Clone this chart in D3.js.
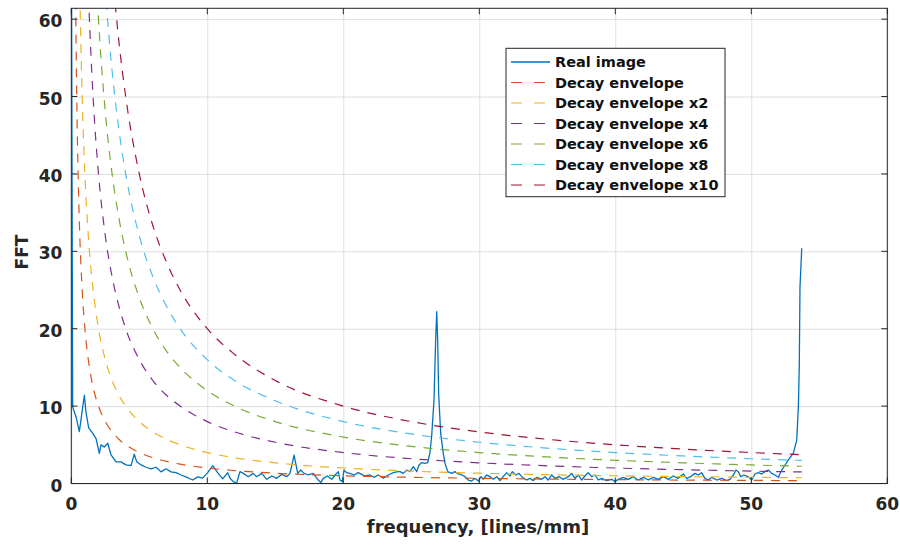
<!DOCTYPE html>
<html>
<head>
<meta charset="utf-8">
<script src="https://cdn.jsdelivr.net/npm/d3@7"></script>
<style>
    body { margin: 0; background: #fff; }
    svg { display: block; font-family: "DejaVu Sans", sans-serif; font-weight: bold; }
</style>
</head>
<body>
<div id="chart"></div>
<script>
// Real image spectrum
const realFreq = [
    0, 0.10, 0.35, 0.59, 0.96, 1.08, 1.28, 1.57, 1.82, 2.06, 2.18, 2.43, 2.68, 2.92, 3.29, 3.65, 4.02, 4.39, 4.63, 4.81,
    5.13, 5.49, 5.86, 6.23, 6.60, 6.96, 7.33, 7.70, 8.07, 8.43, 8.93, 9.29, 9.66, 10.03, 10.40, 10.76, 11.13, 11.50,
    11.67, 11.91, 12.16, 12.40, 12.65, 13.01, 13.38, 13.63, 14.00, 14.37, 14.74, 15.10, 15.47, 15.84, 16.08, 16.25,
    16.38, 16.50, 16.65, 16.87, 17.11, 17.43, 17.79, 18.16, 18.34, 18.53, 18.82, 19.15, 19.39, 19.63, 19.76, 19.93,
    20.05, 20.25, 20.49, 20.79, 21.10, 21.35, 21.60, 21.96, 22.26, 22.57, 22.94, 23.31, 23.68, 24.04,
    24.17, 24.41, 24.66, 24.90, 25.15, 25.40, 25.57, 25.76, 26.01, 26.21, 26.38, 26.50, 26.67, 26.79, 26.87, 26.94,
    27.01, 27.16, 27.35, 27.48, 27.68, 27.97, 28.21, 28.46, 28.71, 28.95, 29.19, 29.44, 29.68, 29.93, 30.13, 30.29,
    30.54, 30.79, 31.03, 31.28, 31.52, 31.76, 32.01, 32.26, 32.43, 32.68, 32.92, 33.16, 33.49, 33.73, 33.97, 34.22,
    34.59, 34.83, 35.07, 35.32, 35.57, 35.86, 36.18, 36.30, 36.54, 36.79, 37.04, 37.28, 37.53, 37.77, 38.01, 38.26,
    38.51, 38.75, 39.00, 39.37, 39.74, 39.98, 40.22, 40.59, 40.96, 41.32, 41.69, 42.06, 42.43, 42.79, 43.16, 43.53,
    43.90, 44.26, 44.63, 45.00, 45.25, 45.54, 45.86, 46.10, 46.35, 46.59, 46.84, 47.09, 47.46, 47.82, 48.19,
    48.43, 48.68, 48.87, 49.04, 49.22, 49.46, 49.78, 50.03, 50.27, 50.51, 50.76, 51.00, 51.25, 51.50, 51.74, 51.99,
    52.24, 52.48, 52.72, 53.09, 53.34, 53.46, 53.53, 53.58, 53.71
];
const realFFT = [
    75, 9.9, 8.6, 6.7, 11.4, 9.2, 7.2, 6.5, 5.8, 3.9, 5.0, 4.7, 5.2, 3.7, 2.8, 2.8, 2.4, 2.3, 3.8, 2.8,
    2.4, 2.1, 1.9, 2.1, 1.5, 1.9, 1.5, 1.4, 1.1, 0.85, 0.45, 0.85, 0.7, 1.4, 2.3, 1.4, 0.6, 1.4,
    0.67, 0.24, 0.05, 1.53, 1.31, 0.88, 1.31, 0.88, 1.31, 0.54, 0.97, 0.67, 1.18, 0.88, 1.31, 2.6,
    3.68, 2.6, 1.31, 1.74, 1.31, 1.10, 1.31, 0.45, 0.11, 0.67, 0.97, 0.54, 1.10, 1.53, 0.45, 0.24,
    1.74, 1.40, 1.31, 1.10, 1.40, 1.18, 0.97, 1.10, 0.80, 1.10, 0.67, 1.10, 1.40, 1.53,
    1.53, 1.31, 1.74, 1.53, 2.17, 1.53, 2.39, 2.69, 2.6, 2.69, 4.1, 6.2, 10.8, 18.5, 22.2, 18.5,
    11.65, 6.5, 3.9, 2.6, 1.53, 1.31, 1.53, 1.23, 1.10, 0.88, 0.45, 0.32, 0.67, 0.32, 0.88, 0.54,
    1.10, 0.88, 0.54, 0.88, 0.37, 0.88, 1.40, 0.97, 1.53, 1.10, 1.31, 0.80, 0.45, 0.67, 0.37, 0.80,
    0.54, 0.88, 0.45, 1.10, 0.67, 0.88, 0.54, 0.67, 0.88, 1.31, 0.67, 1.10, 0.45, 0.97, 1.40, 0.88,
    1.10, 0.45, 0.67, 0.37, 0.54, 0.24, 0.54, 0.80, 0.54, 0.88, 0.45, 0.80, 0.45, 0.80, 0.54, 0.88,
    0.54, 0.97, 0.67, 1.23, 0.67, 0.88, 1.31, 1.10, 1.40, 0.67, 0.45, 0.80, 0.45, 0.67, 0.37,
    0.54, 1.10, 1.74, 1.53, 0.88, 1.10, 0.88, 0.45, 1.23, 1.40, 1.23, 1.53, 1.74, 1.31, 1.10, 0.80,
    1.74, 2.39, 3.04, 3.9, 5.6, 9.9, 15.3, 25.4, 30.4
];

// Decay envelopes, sampled at these frequencies
const envFreq = [0.25, 0.3, 0.4, 0.5, 0.6, 0.8, 1, 1.25, 1.5, 1.75, 2, 2.5, 3, 3.5, 4, 5, 6, 7, 8, 10,
    12, 15, 20, 25, 30, 35, 40, 45, 50, 53.71];
const envX1 = [80, 66.7, 50, 40, 33.3, 25, 20, 16, 13.3, 11.4, 10, 8, 6.67, 5.71, 5, 4, 3.33, 2.86, 2.5, 2,
    1.67, 1.33, 1, 0.8, 0.67, 0.57, 0.5, 0.44, 0.4, 0.37];
const envX2 = [160, 133, 100, 80, 66.7, 50, 40, 32, 26.7, 22.9, 20, 16, 13.3, 11.4, 10, 8, 6.67, 5.71, 5, 4,
    3.33, 2.67, 2, 1.6, 1.33, 1.14, 1, 0.89, 0.8, 0.74];
const envX4 = [320, 267, 200, 160, 133, 100, 80, 64, 53.3, 45.7, 40, 32, 26.7, 22.9, 20, 16, 13.3, 11.4, 10, 8,
    6.67, 5.33, 4, 3.2, 2.67, 2.29, 2, 1.78, 1.6, 1.49];
const envX6 = [480, 400, 300, 240, 200, 150, 120, 96, 80, 68.6, 60, 48, 40, 34.3, 30, 24, 20, 17.1, 15, 12,
    10, 8, 6, 4.8, 4, 3.43, 3, 2.67, 2.4, 2.23];
const envX8 = [640, 533, 400, 320, 267, 200, 160, 128, 107, 91.4, 80, 64, 53.3, 45.7, 40, 32, 26.7, 22.9, 20, 16,
    13.3, 10.7, 8, 6.4, 5.33, 4.57, 4, 3.56, 3.2, 2.98];
const envX10 = [800, 667, 500, 400, 333, 250, 200, 160, 133, 114, 100, 80, 66.7, 57.1, 50, 40, 33.3, 28.6, 25, 20,
    16.7, 13.3, 10, 8, 6.67, 5.71, 5, 4.44, 4, 3.72];

const seriesNames = ['Real image', 'Decay envelope', 'Decay envelope x2', 'Decay envelope x4',
    'Decay envelope x6', 'Decay envelope x8', 'Decay envelope x10'];
const seriesColors = ['#0072BD', '#D95319', '#EDB120', '#7E2F8E', '#77AC30', '#4DBEEE', '#A2142F'];

const xTicks = [0, 10, 20, 30, 40, 50, 60];
const yTicks = [0, 10, 20, 30, 40, 50, 60];

document.addEventListener('DOMContentLoaded', function () {
    drawChart();
});

function drawChart() {
    const svgWidth = 900;
    const svgHeight = 545;
    const left = 71.3, right = 887.3, top = 8.3, bottom = 483.5;
    const axisColor = '#262626';

    const svg = d3.select('#chart')
        .append('svg')
        .attr('width', svgWidth)
        .attr('height', svgHeight);

    const xScale = d3.scaleLinear().domain([0, 60]).range([left, right]);
    const yScale = d3.scaleLinear().domain([0, 61.4]).range([bottom, top]);

    svg.append('clipPath').attr('id', 'plotClip')
        .append('rect')
        .attr('x', left).attr('y', top)
        .attr('width', right - left).attr('height', bottom - top);

    // grid
    svg.append('g')
        .attr('transform', `translate(0, ${bottom})`)
        .call(d3.axisBottom(xScale).tickValues(xTicks).tickSize(-(bottom - top)).tickFormat(''))
        .call(g => g.select('.domain').remove())
        .selectAll('line').attr('stroke', '#dedede');
    svg.append('g')
        .attr('transform', `translate(${left}, 0)`)
        .call(d3.axisLeft(yScale).tickValues(yTicks).tickSize(-(right - left)).tickFormat(''))
        .call(g => g.select('.domain').remove())
        .selectAll('line').attr('stroke', '#dedede');

    const plot = svg.append('g').attr('clip-path', 'url(#plotClip)');

    const line = d3.line()
        .x(d => xScale(d[0]))
        .y(d => yScale(d[1]));

    plot.append('path')
        .datum(realFreq.map((f, i) => [f, realFFT[i]]))
        .attr('fill', 'none')
        .attr('stroke', seriesColors[0])
        .attr('stroke-width', 1.3)
        .attr('stroke-linejoin', 'round')
        .attr('d', line);

    const envLine = d3.line()
        .curve(d3.curveMonotoneX)
        .x(d => xScale(d[0]))
        .y(d => yScale(d[1]));

    const envelopes = [envX1, envX2, envX4, envX6, envX8, envX10];
    envelopes.forEach((values, k) => {
        plot.append('path')
            .datum(envFreq.map((f, i) => [f, values[i]]))
            .attr('fill', 'none')
            .attr('stroke', seriesColors[k + 1])
            .attr('stroke-width', 1.2)
            .attr('stroke-dasharray', '9,8')
            .attr('d', envLine);
    });

    // box and ticks (inward, mirrored)
    const tickLen = 6;
    const axes = svg.append('g').attr('stroke', axisColor).attr('stroke-width', 1);
    axes.append('rect')
        .attr('x', left).attr('y', top)
        .attr('width', right - left).attr('height', bottom - top)
        .attr('fill', 'none');
    xTicks.forEach(t => {
        axes.append('line').attr('x1', xScale(t)).attr('x2', xScale(t)).attr('y1', bottom).attr('y2', bottom - tickLen);
        axes.append('line').attr('x1', xScale(t)).attr('x2', xScale(t)).attr('y1', top).attr('y2', top + tickLen);
    });
    yTicks.forEach(t => {
        axes.append('line').attr('y1', yScale(t)).attr('y2', yScale(t)).attr('x1', left).attr('x2', left + tickLen);
        axes.append('line').attr('y1', yScale(t)).attr('y2', yScale(t)).attr('x1', right).attr('x2', right - tickLen);
    });

    svg.append('g').selectAll('text')
        .data(xTicks)
        .enter()
        .append('text')
        .attr('x', d => xScale(d))
        .attr('y', 509.5)
        .attr('text-anchor', 'middle')
        .attr('font-size', 17)
        .attr('fill', axisColor)
        .text(d => d);

    svg.append('g').selectAll('text')
        .data(yTicks)
        .enter()
        .append('text')
        .attr('x', left - 9)
        .attr('y', d => yScale(d) + 8)
        .attr('text-anchor', 'end')
        .attr('font-size', 17)
        .attr('fill', axisColor)
        .text(d => d);

    svg.append('text')
        .attr('x', 478)
        .attr('y', 533)
        .attr('text-anchor', 'middle')
        .attr('font-size', 18)
        .attr('fill', axisColor)
        .text('frequency, [lines/mm]');

    svg.append('text')
        .attr('transform', 'translate(28, 252) rotate(-90)')
        .attr('text-anchor', 'middle')
        .attr('font-size', 17)
        .attr('fill', axisColor)
        .text('FFT');

    // legend
    const legend = svg.append('g');
    legend.append('rect')
        .attr('x', 506).attr('y', 48.3)
        .attr('width', 219).attr('height', 148.4)
        .attr('fill', '#fff')
        .attr('stroke', axisColor)
        .attr('stroke-width', 1);

    seriesNames.forEach((name, i) => {
        const yy = 62 + i * 20.5;
        legend.append('line')
            .attr('x1', 511).attr('x2', 550)
            .attr('y1', yy).attr('y2', yy)
            .attr('stroke', seriesColors[i])
            .attr('stroke-width', i === 0 ? 1.3 : 1.2)
            .attr('stroke-dasharray', i === 0 ? null : '11,12');
        legend.append('text')
            .attr('x', 555)
            .attr('y', yy + 5)
            .attr('font-size', 14.5)
            .attr('fill', '#111')
            .text(name);
    });
}
</script>
</body>
</html>
